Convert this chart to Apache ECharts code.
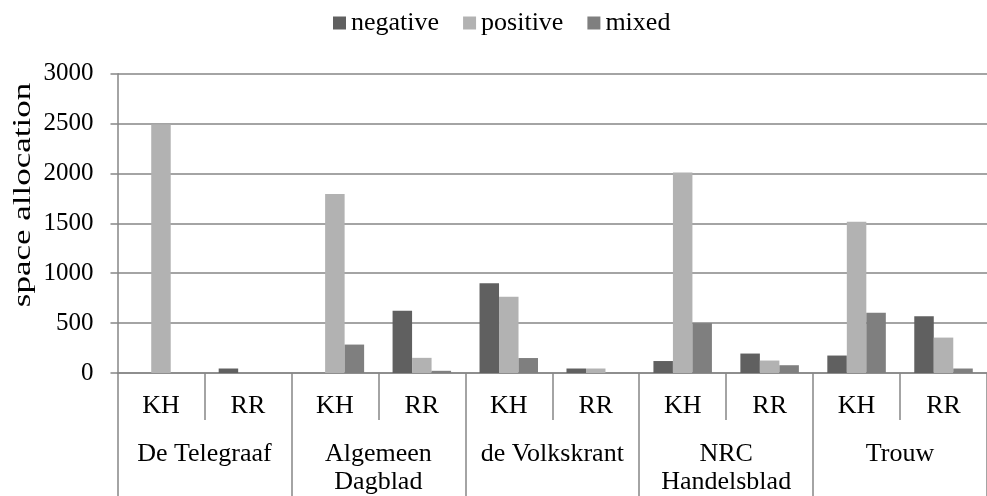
<!DOCTYPE html>
<html>
<head>
<meta charset="utf-8">
<script src="https://cdn.jsdelivr.net/npm/echarts@6/dist/echarts.min.js"></script>
<style>
  html, body { margin: 0; padding: 0; background: #fff; }
  #main { width: 987px; height: 496px; }
</style>
</head>
<body>
<div id="main"></div>
<script>
// categories
var subLabels = ['KH', 'RR', 'KH', 'RR', 'KH', 'RR', 'KH', 'RR', 'KH', 'RR'];
var groupLabels = ['De Telegraaf', 'Algemeen\nDagblad', 'de Volkskrant', 'NRC\nHandelsblad', 'Trouw'];
// values (space allocation)
var negative = [0, 45, 0, 625, 900, 45, 120, 195, 175, 570];
var positive = [2490, 0, 1795, 152, 765, 45, 2010, 125, 1515, 355];
var mixed = [0, 0, 285, 22, 150, 0, 500, 78, 605, 45];
var yTicks = [0, 500, 1000, 1500, 2000, 2500, 3000];

var font = 'Liberation Serif';
var gray = '#868686';
var chart = echarts.init(document.getElementById('main'));

var option = {
  animation: false,
  color: ['#606060', '#b2b2b2', '#7f7f7f'],
  textStyle: { fontFamily: font, color: '#000' },
  legend: {
    data: ['negative', 'positive', 'mixed'],
    left: 328,
    top: 5,
    icon: 'rect',
    itemWidth: 13,
    itemHeight: 13,
    itemGap: 24,
    textStyle: { fontSize: 26, fontFamily: font, color: '#000' }
  },
  grid: {
    left: 117.5,
    top: 73.7,
    width: 882,
    height: 300
  },
  graphic: [{
    type: 'text',
    x: 23,
    y: 195,
    rotation: Math.PI / 2,
    scaleX: 1.4,
    style: {
      text: 'space allocation',
      font: '25px "Liberation Serif"',
      fill: '#000',
      textAlign: 'center',
      textVerticalAlign: 'middle'
    }
  }],
  xAxis: [{
    type: 'category',
    data: subLabels,
    position: 'bottom',
    axisLine: { lineStyle: { color: gray, width: 1.5 } },
    axisTick: { show: true, length: 47, interval: 0, lineStyle: { color: gray, width: 1.5 } },
    axisLabel: { interval: 0, margin: 20, fontSize: 26, fontFamily: font, color: '#000' },
    splitLine: { show: false }
  }, {
    type: 'category',
    data: groupLabels,
    position: 'bottom',
    offset: 0,
    axisLine: { show: false },
    axisTick: { show: true, length: 123, interval: 0, lineStyle: { color: gray, width: 1.5 } },
    axisLabel: { interval: 0, margin: 67, fontSize: 26, lineHeight: 28, fontFamily: font, color: '#000' },
    splitLine: { show: false }
  }],
  yAxis: {
    type: 'value',
    min: yTicks[0],
    max: yTicks[yTicks.length - 1],
    interval: 500,
    axisLine: { show: true, lineStyle: { color: gray, width: 1.5 } },
    axisTick: { show: true, length: 7, lineStyle: { color: gray, width: 1.5 } },
    axisLabel: {
      margin: 24,
      fontSize: 25,
      fontFamily: font,
      color: '#000',
      formatter: function (value) { return String(value); }
    },
    splitLine: { lineStyle: { color: gray, width: 1.5 } }
  },
  series: [{
    name: 'negative',
    type: 'bar',
    xAxisIndex: 0,
    barWidth: 19.5,
    barGap: '0%',
    data: negative
  }, {
    name: 'positive',
    type: 'bar',
    xAxisIndex: 0,
    barWidth: 19.5,
    barGap: '0%',
    data: positive
  }, {
    name: 'mixed',
    type: 'bar',
    xAxisIndex: 0,
    barWidth: 19.5,
    barGap: '0%',
    data: mixed
  }]
};
chart.setOption(option);
</script>
</body>
</html>
